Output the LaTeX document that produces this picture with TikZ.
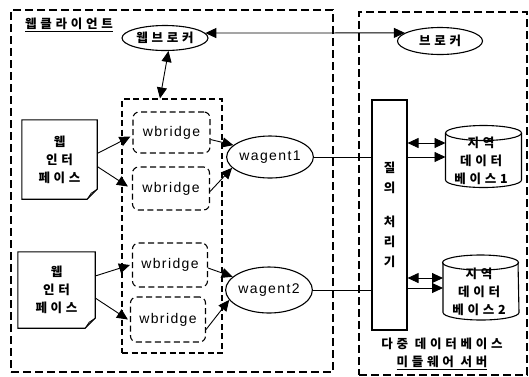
\documentclass[tikz,border=0pt]{standalone}
\usepackage{fontspec}
\setmainfont{Noto Sans CJK KR}
\newfontfamily\latinf{Liberation Sans}
\usetikzlibrary{arrows.meta,shapes.geometric,calc}
\begin{document}
\begin{tikzpicture}[x=1pt,y=-1pt,
  kor/.style={font=\fontsize{12.5}{18}\selectfont\bfseries\addfontfeature{LetterSpace=30},align=center,inner sep=0pt},
  lat/.style={font=\latinf\fontsize{14}{16}\selectfont\addfontfeature{LetterSpace=10},inner sep=0pt},
  outerbox/.style={draw,line width=1.2pt,dash pattern=on 8pt off 4pt},
  groupbox/.style={draw,line width=1.1pt,dash pattern=on 6pt off 3.5pt},
  bridgebox/.style={draw,line width=1.1pt,dash pattern=on 6pt off 3.5pt,rounded corners=6pt,lat},
  oval/.style={draw,ellipse,line width=1.1pt,inner sep=0pt},
  tip/.style={-{Triangle[length=11pt,width=10pt]}},
  dtip/.style={{Triangle[length=11pt,width=10pt]}-{Triangle[length=11pt,width=10pt]}},
  conn/.style={line width=0.9pt},
  dbline/.style={line width=1.1pt}
]
\useasboundingbox (0,0) rectangle (529,376);
% containers
\node[outerbox,minimum width=322pt,minimum height=362pt,inner sep=0pt] (client) at (172,191) {};
\node[outerbox,minimum width=168pt,minimum height=363pt,inner sep=0pt] (server) at (443,193.5) {};
\node[kor] (clientlbl) at (69,25) {\underline{웹클라이언트}};
\node[kor] (serverlbl) at (442,354) {다중 데이터베이스\\\underline{미들웨어 서버}};
% brokers
\node[oval,kor,minimum width=86pt,minimum height=25pt] (wbroker) at (165,38) {웹브로커};
\node[oval,kor,minimum width=85pt,minimum height=27pt] (broker) at (440,41) {브로커};
\draw[conn,dtip] (wbroker.7) -- (broker.167);
% group of bridges
\node[groupbox,minimum width=100pt,minimum height=254pt,inner sep=0pt] (grp) at (172,226) {};
\draw[conn,dtip] (wbroker.-75) -- ([xshift=-12pt]grp.north);
\node[bridgebox,minimum width=77pt,minimum height=41pt] (wb1) at (171.5,132.5) {wbridge};
\node[bridgebox,minimum width=77pt,minimum height=43pt] (wb2) at (171,188.5) {wbridge};
\node[bridgebox,minimum width=75pt,minimum height=44pt] (wb3) at (170,265) {wbridge};
\node[bridgebox,minimum width=75pt,minimum height=45pt] (wb4) at (168,319.5) {wbridge};
% web interface documents
\node[kor,minimum width=75pt,minimum height=79pt] (d1) at (59.5,159.5) {웹\\인터\\페이스};
\node[kor,minimum width=77pt,minimum height=76pt] (d2) at (56.5,290) {웹\\인터\\페이스};
\foreach \d in {d1,d2}{
  \draw[line width=1.1pt] (\d.north west) -- (\d.north east) -- ([yshift=10pt]\d.south east)
     -- ([xshift=-10pt]\d.south east) -- (\d.south west) -- cycle;
  \draw[line width=0.8pt] ([yshift=10pt]\d.south east) -- ([xshift=-6pt,yshift=6pt]\d.south east)
     -- ([xshift=-10pt]\d.south east);
}
\draw[conn,tip] ([yshift=6pt]d1.east) -- ([yshift=-4pt,xshift=-2pt]wb1.west);
\draw[conn,tip] ([yshift=-7pt]d1.east) -- ([yshift=2pt,xshift=-4pt]wb2.west);
\draw[conn,tip] ([yshift=14pt]d2.east) -- ([xshift=-2pt]wb3.west);
\draw[conn,tip] ([yshift=-8pt]d2.east) -- ([xshift=-2pt]wb4.west);
% agents
\node[oval,lat,minimum width=75pt,minimum height=42pt] (wa1) at (270,157) {wagent1};
\node[oval,lat,minimum width=77pt,minimum height=46pt] (wa2) at (269,290) {wagent2};
\draw[conn,tip] ([yshift=-7pt]wb1.east) -- (wa1.162);
\draw[conn,tip] ([yshift=-3pt]wb2.east) -- (wa1.196);
\draw[conn,tip] ([yshift=-3pt]wb3.east) -- (wa2.160);
\draw[conn,tip] ([yshift=-10pt]wb4.east) -- (wa2.194);
% query processor
\node[draw,line width=1.1pt,minimum width=35pt,minimum height=230pt,kor,font=\fontsize{12.5}{20}\selectfont\bfseries] (qp) at (389.5,215) {질\\의\\[14pt]처\\리\\기};
\draw[conn] (wa1.east) -- (wa1.east -| qp.west);
\draw[conn] (wa2.east) -- (wa2.east -| qp.west);
% databases: outline drawn from explicit corners
\coordinate (db1nw) at (445.5,133);
\coordinate (db1se) at (521.5,180);
\coordinate (db2nw) at (443,262.5);
\coordinate (db2se) at (518,312.5);
\foreach \nw/\se in {db1nw/db1se,db2nw/db2se}{
  \draw[dbline] ($(\nw)!0.5!(\nw -| \se)$) ellipse [x radius=38pt, y radius=7.5pt];
  \draw[dbline] (\nw) -- (\nw |- \se) arc[start angle=180,end angle=360,x radius=38pt,y radius=7.5pt] -- (\se |- \nw);
}
\node[kor] (db1) at (481,161) {지역\\데이터\\베이스1};
\node[kor] (db2) at (479,292) {지역\\데이터\\베이스2};
\coordinate (a1) at (0,143);
\coordinate (b1) at (0,157);
\coordinate (a2) at (0,278);
\coordinate (b2) at (0,288);
\draw[conn,dtip] (a1 -| qp.east) -- (a1 -| db1nw);
\draw[conn,tip]  (b1 -| qp.east) -- (b1 -| db1nw);
\draw[conn,dtip] (a2 -| qp.east) -- (a2 -| db2nw);
\draw[conn,tip]  (b2 -| qp.east) -- (b2 -| db2nw);
\end{tikzpicture}
\end{document}
